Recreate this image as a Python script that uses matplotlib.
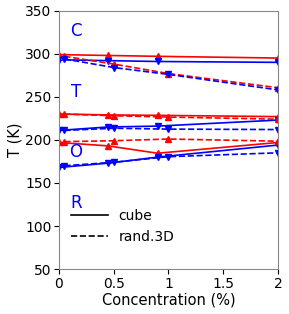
import numpy as np
import matplotlib
matplotlib.use("Agg")
import matplotlib.pyplot as plt

# concentrations (%)
x_cube = [0, 0.45, 0.9, 2]
x_rand = [0.05, 0.5, 1.0, 2]

# C transition
C_cube_up = [299, 298, 297, 295]
C_cube_dn = [293, 292, 291, 290]
C_rand_up = [297, 288, 277, 260.5]
C_rand_dn = [294, 284, 276, 258]

# T transition
T_cube_up = [230, 229, 228.5, 227]
T_cube_dn = [211, 215, 216, 223]
T_rand_up = [230, 228, 226.5, 224]
T_rand_dn = [211, 213.5, 212.5, 212]

# O transition
O_cube_up = [197, 193, 184.5, 197]
O_cube_dn = [168, 173, 180, 194]
O_rand_up = [198, 199, 201, 198.5]
O_rand_dn = [170, 174, 180.5, 185]

fig = plt.figure(figsize=(2.89, 3.14), dpi=100)
ax = fig.add_axes([0.204, 0.143, 0.758, 0.823])

for up, dn in [(C_cube_up, C_cube_dn), (T_cube_up, T_cube_dn), (O_cube_up, O_cube_dn)]:
    ax.plot(x_cube, up, '-', color='red', marker='^', ms=4.5, lw=1.2)
    ax.plot(x_cube, dn, '-', color='blue', marker='v', ms=4.5, lw=1.2)
for up, dn in [(C_rand_up, C_rand_dn), (T_rand_up, T_rand_dn), (O_rand_up, O_rand_dn)]:
    ax.plot(x_rand, up, '--', color='red', marker='^', ms=4.5, lw=1.2)
    ax.plot(x_rand, dn, '--', color='blue', marker='v', ms=4.5, lw=1.2)

for lab, yy in [("C", 326), ("T", 255.5), ("O", 186.5), ("R", 126.5)]:
    ax.text(0.155, yy, lab, color='blue', fontsize=12, ha='center', va='center')

ax.plot([], [], '-', color='black', lw=1.2, label='cube')
ax.plot([], [], '--', color='black', lw=1.2, label='rand.3D')
ax.legend(loc='lower left', frameon=False, fontsize=10, handlelength=2.6,
          bbox_to_anchor=(0.0, 0.05))

ax.set_xlim(0, 2)
ax.set_ylim(50, 350)
ax.set_xticks([0, 0.5, 1, 1.5, 2])
ax.set_xticklabels(['0', '0.5', '1', '1.5', '2'])
ax.tick_params(labelsize=10, pad=2)
ax.set_xlabel("Concentration (%)", fontsize=10.5, labelpad=1)
ax.set_ylabel("T (K)", fontsize=10.5, labelpad=2)
for s in ax.spines.values():
    s.set_color('#888888')

fig.savefig("out.png", dpi=100)
